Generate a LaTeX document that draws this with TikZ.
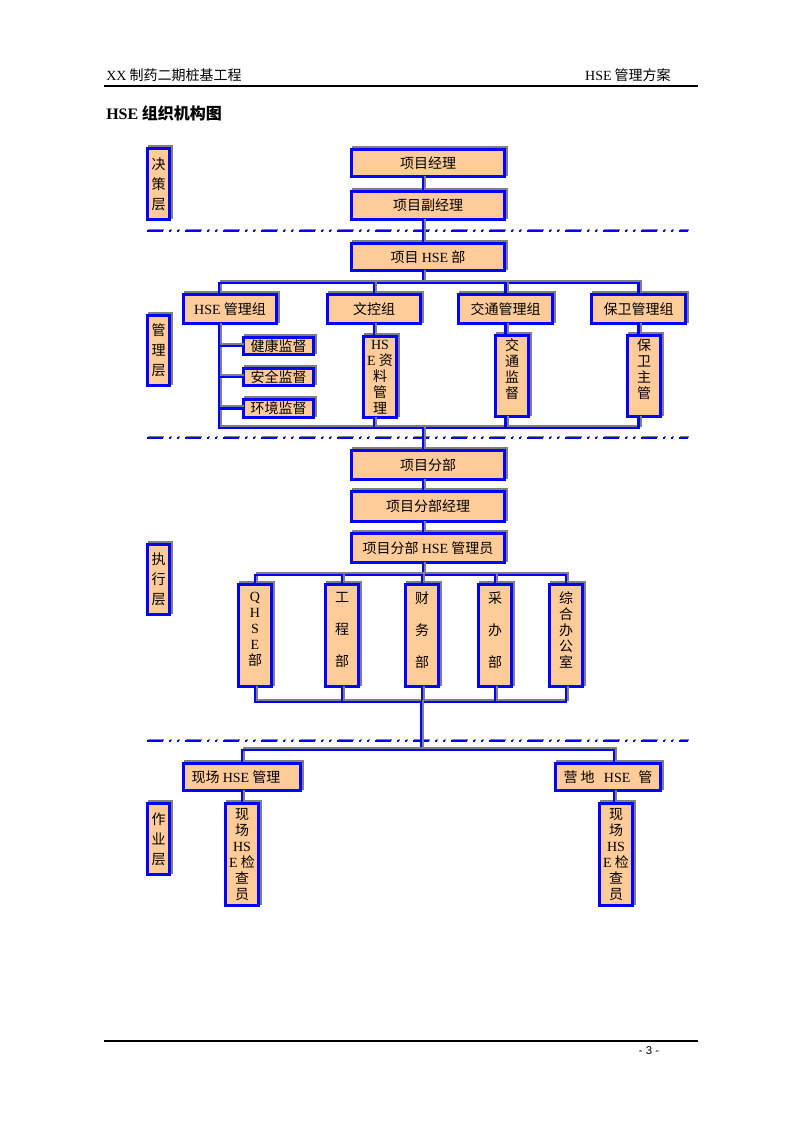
\documentclass[tikz,border=0pt]{standalone}
\usepackage{fontspec}
\setmainfont{Liberation Serif}
\newfontfamily\cjkf{Noto Sans CJK SC}
\newfontfamily\sansf{Liberation Sans}
\usetikzlibrary{shadows}
\definecolor{boxfill}{HTML}{FFCC99}
\definecolor{boxblue}{HTML}{0000FF}
\definecolor{shade}{HTML}{808080}
\newcommand\E[1]{{\rmfamily #1}}
\newcommand\bx[7]{%
  \node[box, minimum width={(#4-#2)*0.75pt-2pt}, minimum height={(#5-#3)*0.75pt-2pt}] (#1) at ({(#2+#4)/2},{(#3+#5)/2}) {};
  \node[txt,#6] (#1t) at (#1.center) {#7};}
\begin{document}
\begin{tikzpicture}[x=0.75pt,y=-0.75pt,
  box/.style={draw=boxblue, fill=boxfill, line width=2pt, inner sep=0pt,
    general shadow={shadow xshift=1.8pt, shadow yshift=1.8pt, fill=shade, draw=shade, line width=2pt}},
  txt/.style={font=\cjkf\fontsize{10.5pt}{12.6pt}\selectfont, inner sep=0pt, align=center},
  v15/.style={font=\cjkf\fontsize{10.5pt}{15pt}\selectfont},
  v12/.style={font=\cjkf\fontsize{10.5pt}{12pt}\selectfont},
  v24/.style={font=\cjkf\fontsize{10.5pt}{24pt}\selectfont},
  conn/.style={draw=boxblue, line width=1.7pt,
    preaction={draw=shade, line width=1.5pt, transform canvas={shift={(1.6pt,1.6pt)}}}},
  sep/.style={draw=boxblue, line width=1.5pt,
    dash pattern=on 12pt off 4.5pt on 1.5pt off 4.5pt on 1.5pt off 4.5pt,
    preaction={draw=shade, line width=1.5pt,
      dash pattern=on 12pt off 4.5pt on 1.5pt off 4.5pt on 1.5pt off 4.5pt,
      transform canvas={shift={(1pt,1pt)}}}},
  rule/.style={draw=black, line width=0.8pt},
  hdr/.style={font=\cjkf\fontsize{10.5pt}{12.6pt}\selectfont, inner sep=0pt}
]
\fill[white] (0,0) rectangle (794,1123);
\useasboundingbox (0,0) rectangle (794,1123);

% header and footer
\node[hdr, anchor=west] (hl) at (106,75) {\E{XX} 制药二期桩基工程};
\node[hdr, anchor=east] (hr) at (671,75) {\E{HSE} 管理方案};
\draw[rule] (104,86) -- (698,86);
\node[anchor=west, inner sep=0pt, font=\cjkf\bfseries\fontsize{12pt}{14pt}\selectfont] (title) at (106,113) {\E{HSE} 组织机构图};
\draw[rule] (104,1041) -- (698,1041);
\node[inner sep=0pt, font=\sansf\fontsize{8.5pt}{10pt}\selectfont] (pg) at (649,1051) {- 3 -};

% separators
\draw[sep] (147,231) -- (688,231);
\draw[sep] (147,438) -- (688,438);
\draw[sep] (147,741) -- (688,741);

% layer labels
\bx{L1}{146}{147}{171}{221}{v15}{决\\策\\层}
\bx{L2}{146}{314}{171}{387}{v15}{管\\理\\层}
\bx{L3}{146}{543}{171}{616}{v15}{执\\行\\层}
\bx{L4}{146}{802}{171}{876}{v15}{作\\业\\层}

% decision layer
\bx{pm}{350}{148}{506}{178}{}{项目经理}
\bx{pdm}{350}{190}{506}{221}{}{项目副经理}

% management layer
\bx{hse}{350}{242}{506}{272}{}{项目 \E{HSE} 部}
\bx{g1}{182}{293}{278}{325}{}{\E{HSE} 管理组}
\bx{g2}{326}{293}{422}{325}{}{文控组}
\bx{g3}{457}{293}{554}{325}{}{交通管理组}
\bx{g4}{590}{293}{687}{325}{}{保卫管理组}
\bx{sub1}{242}{336}{315}{356}{}{健康监督}
\bx{sub2}{242}{367}{315}{387}{}{安全监督}
\bx{sub3}{242}{398}{315}{419}{}{环境监督}
\bx{s2}{362}{335}{398}{419}{v12}{\E{HS}\\\E{E} 资\\料\\管\\理}
\bx{s3}{494}{334}{530}{418}{v12,yshift=5.5pt}{交\\通\\监\\督}
\bx{s4}{626}{334}{662}{418}{v12,yshift=5pt}{保\\卫\\主\\管}

% execution layer
\bx{ps}{350}{449}{506}{481}{}{项目分部}
\bx{psm}{350}{490}{506}{523}{}{项目分部经理}
\bx{psh}{350}{532}{506}{564}{}{项目分部 \E{HSE} 管理员}
\bx{e1}{237}{583}{273}{688}{v12,yshift=4.5pt}{\E{Q}\\\E{H}\\\E{S}\\\E{E}\\部}
\bx{e2}{324}{583}{360}{688}{v24,yshift=4pt}{工\\程\\部}
\bx{e3}{404}{583}{440}{688}{v24,yshift=4pt}{财\\务\\部}
\bx{e4}{477}{583}{513}{688}{v24,yshift=4pt}{采\\办\\部}
\bx{e5}{548}{583}{584}{688}{v12,yshift=4pt}{综\\合\\办\\公\\室}

% operation layer
\bx{w1}{182}{762}{302}{792}{xshift=-4.5pt}{现场 \E{HSE} 管理}
\bx{w2}{554}{762}{662}{792}{}{营\hspace{2.2pt}地\hspace{7pt}\E{HSE}\hspace{6pt}管}
\bx{c1}{224}{802}{260}{907}{v12}{现\\场\\\E{HS}\\\E{E} 检\\查\\员}
\bx{c2}{598}{802}{634}{907}{v12}{现\\场\\\E{HS}\\\E{E} 检\\查\\员}

% reference coordinates
\coordinate (t1) at (423,0);
\coordinate (t2) at (421,0);
\coordinate (xA) at (219,283);
\coordinate (yB) at (0,428);
\coordinate (yC) at (0,575);
\coordinate (yD) at (0,702);
\coordinate (yE) at (0,750);
\coordinate (xW) at (614,0);

% connectors: top
\draw[conn] (pm.south -| t1) -- (pdm.north -| t1);
\draw[conn] (pdm.south -| t1) -- (hse.north -| t1);
\draw[conn] (hse.south -| t1) -- (xA -| t1);
\draw[conn] (g1.north -| xA) -- (xA) -- (xA -| g4.north) -- (g4.north);
\draw[conn] (g2.north |- xA) -- (g2.north);
\draw[conn] (g3.north |- xA) -- (g3.north);
% management sub-tree
\draw[conn] (g1.south -| xA) -- (yB -| xA) -- (yB -| g4.south) -- (s4.south -| g4.south);
\draw[conn] (sub1.west -| xA) -- (sub1.west);
\draw[conn] (sub2.west -| xA) -- (sub2.west);
\draw[conn] (sub3.west -| xA) -- (sub3.west);
\draw[conn] (g2.south) -- (s2.north -| g2.south);
\draw[conn] (g3.south) -- (s3.north -| g3.south);
\draw[conn] (g4.south) -- (s4.north -| g4.south);
\draw[conn] (s2.south -| g2.south) -- (yB -| g2.south);
\draw[conn] (s3.south -| g3.south) -- (yB -| g3.south);
\draw[conn] (yB -| t1) -- (ps.north -| t1);
% execution
\draw[conn] (ps.south -| t1) -- (psm.north -| t1);
\draw[conn] (psm.south -| t1) -- (psh.north -| t1);
\draw[conn] (psh.south -| t1) -- (yC -| t1);
\draw[conn] (e1.north) -- (e1.north |- yC) -- (yC -| e5.north) -- (e5.north);
\draw[conn] (e2.north |- yC) -- (e2.north);
\draw[conn] (e3.north |- yC) -- (e3.north);
\draw[conn] (e4.north |- yC) -- (e4.north);
\draw[conn] (e1.south) -- (e1.south |- yD) -- (yD -| e5.south) -- (e5.south);
\draw[conn] (e2.south) -- (e2.south |- yD);
\draw[conn] (e3.south) -- (e3.south |- yD);
\draw[conn] (e4.south) -- (e4.south |- yD);
\draw[conn] (yD -| t2) -- (yE -| t2);
% operation
\draw[conn] (w1.north) -- (w1.north |- yE) -- (yE -| xW) -- (w2.north -| xW);
\draw[conn] (w1.south) -- (c1.north -| w1.south);
\draw[conn] (w2.south -| xW) -- (c2.north -| xW);
\end{tikzpicture}
\end{document}
